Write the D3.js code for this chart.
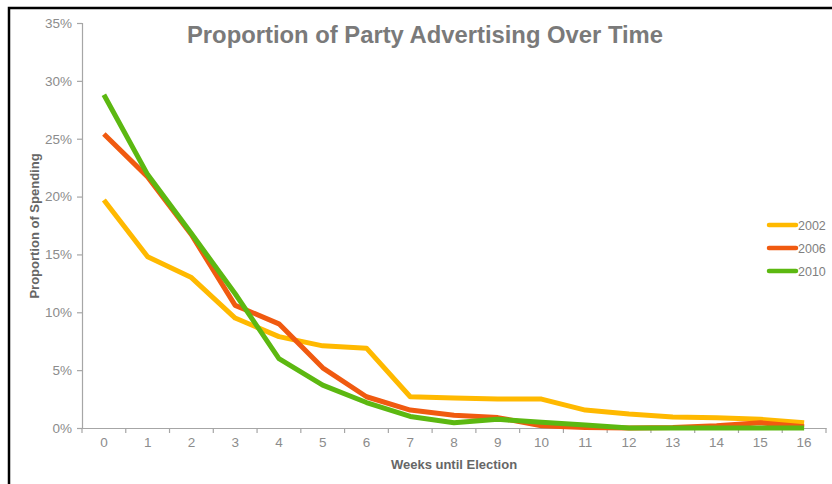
<!doctype html>
<html>
  <head>
    <meta charset="utf-8">
    <title>Proportion of Party Advertising Over Time</title>
    <script src="https://cdn.jsdelivr.net/npm/d3@7"></script>
    <style>
      html, body { margin:0; padding:0; overflow:hidden; background:#fff }
      svg { display:block; font-family:"Liberation Sans", Arial, sans-serif }
    </style>
  </head>
  <body>
    <div id="chart"></div>
    <script>
      // weeks until election (x categories)
      var weeks = d3.range(0, 17);
      var yTicks = [0, 0.05, 0.10, 0.15, 0.20, 0.25, 0.30, 0.35];
      var years = ["2002", "2006", "2010"];
      var colors = ["#ffb900", "#f05a10", "#5cb811"];

      var v2002 = [19.7, 14.8, 13.0, 9.5, 7.9, 7.1, 6.9, 2.7, 2.6, 2.5, 2.5, 1.55, 1.2, 0.95, 0.88, 0.75, 0.45];
      var v2006 = [25.4, 21.7, 16.7, 10.6, 9.0, 5.2, 2.7, 1.55, 1.1, 0.9, 0.2, 0.05, 0.0, 0.05, 0.2, 0.45, 0.1];
      var v2010 = [28.8, 21.9, 16.8, 11.6, 6.0, 3.7, 2.2, 1.0, 0.45, 0.75, 0.5, 0.25, 0.0, 0.0, 0.0, 0.0, 0.0];
      var series = [v2002, v2006, v2010];

      var W = 832, H = 484;
      var svg = d3.select("#chart").append("svg")
        .attr("width", W).attr("height", H);

      // frame
      svg.append("rect")
        .attr("x", 9).attr("y", 8)
        .attr("width", W).attr("height", H)
        .attr("fill", "none").attr("stroke", "#000").attr("stroke-width", 2.5);

      var plotL = 82, plotR = 826, plotT = 23, plotB = 428;

      var x = d3.scaleBand().domain(weeks).range([plotL, plotR]);
      var y = d3.scaleLinear().domain([0, 0.35]).range([plotB, plotT]);

      // y axis
      var yAxis = svg.append("g")
        .attr("transform", "translate(" + plotL + ",0)")
        .call(d3.axisLeft(y).tickValues(yTicks).tickFormat(d3.format(".0%")).tickSize(5).tickPadding(5));
      // x axis
      var xAxis = svg.append("g")
        .attr("transform", "translate(0," + plotB + ")")
        .call(d3.axisBottom(x).tickSize(0).tickPadding(9));

      // category boundary ticks
      var bounds = weeks.map(function(w) { return x(w); }).concat([plotR]);
      xAxis.selectAll("line.bound").data(bounds).enter().append("line")
        .attr("class", "bound")
        .attr("x1", function(d) { return d; }).attr("x2", function(d) { return d; })
        .attr("y1", 0).attr("y2", 5);

      [yAxis, xAxis].forEach(function(g) {
        g.select(".domain").attr("stroke", "#a6a6a6").attr("stroke-width", 1.2);
        g.selectAll("line").attr("stroke", "#a6a6a6").attr("stroke-width", 1.2);
        g.selectAll("text").attr("fill", "#8c8c8c").style("font-size", "13.5px")
          .style("font-family", "Liberation Sans, Arial, sans-serif");
      });

      var line = d3.line()
        .x(function(d, i) { return x(weeks[i]) + x.bandwidth() / 2; })
        .y(function(d) { return y(d / 100); });

      svg.selectAll("path.series").data(series).enter().append("path")
        .attr("class", "series")
        .attr("d", line)
        .attr("fill", "none")
        .attr("stroke", function(d, i) { return colors[i]; })
        .attr("stroke-width", 5)
        .attr("stroke-linejoin", "round");

      // title
      svg.append("text")
        .attr("x", 425).attr("y", 43)
        .attr("text-anchor", "middle")
        .attr("fill", "#7a7a7a")
        .style("font-size", "23.8px").style("font-weight", "bold")
        .text("Proportion of Party Advertising Over Time");

      // axis titles
      svg.append("text")
        .attr("transform", "translate(39,226) rotate(-90)")
        .attr("text-anchor", "middle")
        .attr("fill", "#666")
        .style("font-size", "13px").style("font-weight", "bold")
        .text("Proportion of Spending");
      svg.append("text")
        .attr("x", 454).attr("y", 469)
        .attr("text-anchor", "middle")
        .attr("fill", "#666")
        .style("font-size", "13px").style("font-weight", "bold")
        .text("Weeks until Election");

      // legend
      var leg = svg.selectAll("g.leg").data(years).enter().append("g")
        .attr("class", "leg")
        .attr("transform", function(d, i) { return "translate(769," + (225 + i * 23) + ")"; });
      leg.append("line")
        .attr("x1", 0).attr("x2", 27).attr("y1", 0).attr("y2", 0)
        .attr("stroke", function(d, i) { return colors[i]; })
        .attr("stroke-width", 4.5).attr("stroke-linecap", "round");
      leg.append("text")
        .attr("x", 29).attr("y", 4.5)
        .attr("fill", "#7f7f7f")
        .style("font-size", "12.5px")
        .text(function(d) { return d; });
    </script>
  </body>
</html>
